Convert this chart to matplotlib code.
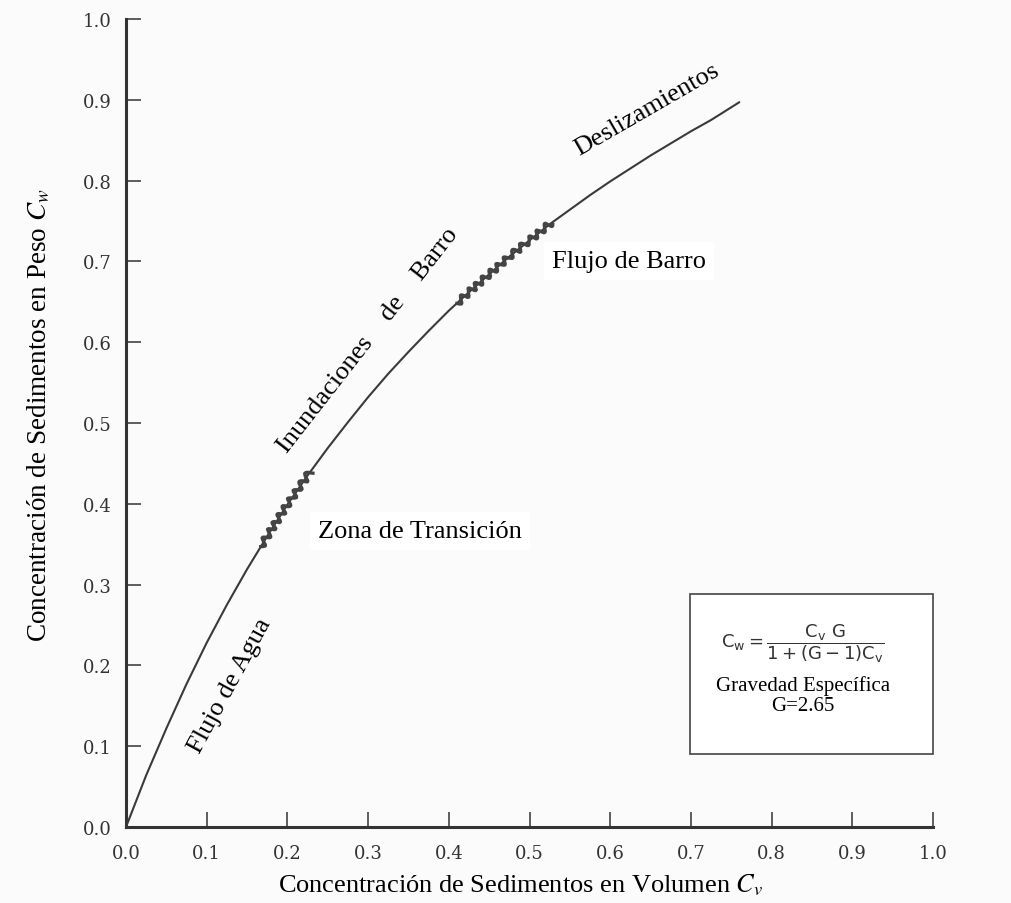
import matplotlib
matplotlib.use("Agg")
import matplotlib.pyplot as plt

plt.rcParams['font.family'] = ['Liberation Serif', 'DejaVu Serif']
plt.rcParams['mathtext.fontset'] = 'stix'

# Data
cv = [0.0, 0.025, 0.05, 0.075, 0.1, 0.125, 0.15, 0.175, 0.2, 0.225, 0.25, 0.275, 0.3,
      0.325, 0.35, 0.375, 0.4, 0.425, 0.45, 0.475, 0.5, 0.525, 0.55, 0.575, 0.6,
      0.625, 0.65, 0.675, 0.7, 0.725, 0.76]
cw = [0.0, 0.064, 0.122, 0.177, 0.228, 0.275, 0.319, 0.360, 0.399, 0.435, 0.469, 0.501,
      0.532, 0.561, 0.588, 0.614, 0.639, 0.662, 0.684, 0.706, 0.726, 0.746, 0.764, 0.782,
      0.799, 0.815, 0.831, 0.846, 0.861, 0.875, 0.897]

# Wavy (transition) stretches of the curve
wave1_cv = [0.167, 0.175, 0.2, 0.225, 0.229]
wave1_cw = [0.347, 0.360, 0.399, 0.435, 0.440]
wave2_cv = [0.410, 0.425, 0.45, 0.475, 0.5, 0.527]
wave2_cw = [0.648, 0.662, 0.684, 0.706, 0.726, 0.748]

xticks = [0.0, 0.1, 0.2, 0.3, 0.4, 0.5, 0.6, 0.7, 0.8, 0.9, 1.0]
yticks = [0.0, 0.1, 0.2, 0.3, 0.4, 0.5, 0.6, 0.7, 0.8, 0.9, 1.0]

fig = plt.figure(figsize=(10.11, 9.04), dpi=100, facecolor='#fbfbfb')
ax = fig.add_axes([126/1011, 76/904, 807/1011, 808/904])
ax.set_facecolor('#fbfbfb')

ax.plot(cv, cw, color='#3a3a3a', lw=1.5, solid_capstyle='round', zorder=3)
for wx, wy in [(wave1_cv, wave1_cw), (wave2_cv, wave2_cw)]:
    ln, = ax.plot(wx, wy, color='#444444', lw=2.4, zorder=4)
    ln.set_sketch_params(scale=3.5, length=10, randomness=1.5)

ax.set_xlim(0, 1)
ax.set_ylim(0, 1)
ax.set_xticks(xticks)
ax.set_yticks(yticks)
ax.set_xticklabels([f"{t:.1f}" for t in xticks])
ax.set_yticklabels([f"{t:.1f}" for t in yticks])
for s in ['top', 'right']:
    ax.spines[s].set_visible(False)
for s in ['left', 'bottom']:
    ax.spines[s].set_linewidth(2.2)
    ax.spines[s].set_color('#333333')
ax.tick_params(axis='both', direction='in', length=11, width=1.1, color='#333333',
               labelcolor='#333333', labelsize=13)
ax.tick_params(axis='y', pad=10)
ax.tick_params(axis='x', pad=12)
for lab in ax.get_xticklabels() + ax.get_yticklabels():
    lab.set_family('DejaVu Serif')

fig.text(521/1011, 1 - 885/904, 'Concentración de Sedimentos en Volumen $C_v$',
         ha='center', va='center', fontsize=19)
fig.text(39/1011, 1 - 415/904, 'Concentración de Sedimentos en Peso $C_w$',
         ha='center', va='center', rotation=90, fontsize=19.5)

def px(x, y):
    return (x/1011, 1 - y/904)

bb = dict(facecolor='white', edgecolor='none', pad=6)
fig.text(*px(230, 686), 'Flujo de Agua', rotation=61.5, ha='center', va='center',
         fontsize=19, rotation_mode='anchor')
fig.text(*px(420, 532), 'Zona de Transición', ha='center', va='center', fontsize=19, bbox=bb)
fig.text(*px(368, 341), 'Inundaciones    de    Barro', rotation=52, ha='center', va='center',
         fontsize=19, rotation_mode='anchor')
fig.text(*px(629, 262), 'Flujo de Barro', ha='center', va='center', fontsize=19, bbox=bb)
fig.text(*px(647, 110), 'Deslizamientos', rotation=30, ha='center', va='center',
         fontsize=19, rotation_mode='anchor')

# Formula box
x0, y0, x1, y1 = 690, 595, 933, 755
rect = plt.Rectangle((x0/1011, 1 - y1/904), (x1-x0)/1011, (y1-y0)/904,
                     transform=fig.transFigure, facecolor='white', edgecolor='#444444', lw=1.2)
fig.add_artist(rect)
fig.text(*px(803, 644), r'$\mathrm{C_w} = \dfrac{\mathrm{C_v\ G}}{\mathrm{1+(G-1)C_v}}$',
         ha='center', va='center', fontsize=13, color='#333333', math_fontfamily='dejavusans')
fig.text(*px(803, 686), 'Gravedad Específica', ha='center', va='center', fontsize=15)
fig.text(*px(803, 707), 'G=2.65', ha='center', va='center', fontsize=15)

fig.savefig('out.png', dpi=100, facecolor=fig.get_facecolor())
